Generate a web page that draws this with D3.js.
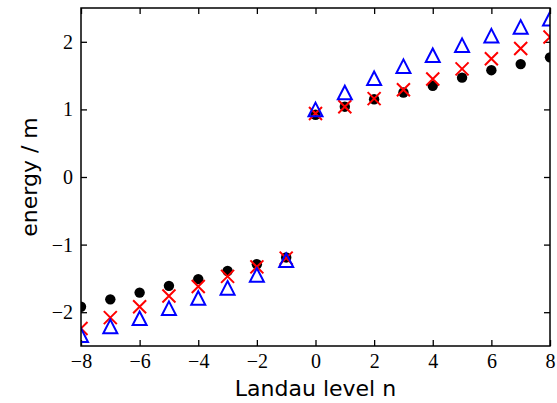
<!DOCTYPE html>
<meta charset="utf-8">
<style>
body { margin: 0; background: #fff; }
.label { font-family: "DejaVu Sans", sans-serif; font-size: 22px; fill: #000; }
</style>
<div class="chart"></div>
<script src="https://d3js.org/d3.v7.min.js"></script>
<script>

// Landau levels and energies (units of m)
var levels = [-8, -7, -6, -5, -4, -3, -2, -1, 0, 1, 2, 3, 4, 5, 6, 7, 8];
var circles = [-1.92, -1.81, -1.71, -1.61, -1.51, -1.39, -1.29, -1.19,
               0.92, 1.04, 1.15, 1.25, 1.35, 1.47, 1.58, 1.67, 1.77];
var crosses = [-2.24, -2.08, -1.92, -1.76, -1.62, -1.47, -1.33, -1.20,
               0.94, 1.04, 1.16, 1.29, 1.45, 1.60, 1.75, 1.90, 2.07];
var triangles = [-2.34, -2.21, -2.09, -1.94, -1.79, -1.64, -1.45, -1.23,
                 1.00, 1.25, 1.46, 1.64, 1.80, 1.95, 2.09, 2.22, 2.34];
var xTicks = [-8, -6, -4, -2, 0, 2, 4, 6, 8];
var yTicks = [-2, -1, 0, 1, 2];

var width = 557, height = 403;
var margin = {top: 8, right: 7, bottom: 57, left: 81};
var w = width - margin.left - margin.right;
var h = height - margin.top - margin.bottom;

var x = d3.scaleLinear().domain([-8, 8]).range([0, w]);
var y = d3.scaleLinear().domain([-2.5, 2.5]).range([h, 0]);

var fmt = function(d) { return d < 0 ? "\u2212" + Math.abs(d) : d; };

var svg = d3.select(".chart").append("svg")
    .attr("width", width)
    .attr("height", height);

var g = svg.append("g")
    .attr("transform", "translate(" + margin.left + "," + margin.top + ")");

svg.append("defs").append("clipPath").attr("id", "clip")
  .append("rect").attr("width", w).attr("height", h);

// axes, ticks inward on all four sides
function styleAxis(sel) {
  sel.select(".domain").remove();
  sel.selectAll(".tick line").attr("stroke", "#000").attr("stroke-width", 1.3);
  sel.selectAll(".tick text")
      .style("font-family", "'Liberation Serif', 'DejaVu Serif', serif")
      .style("font-size", "20px")
      .style("fill", "#000");
}

g.append("g")
    .attr("transform", "translate(0," + h + ")")
    .call(d3.axisBottom(x).tickValues(xTicks).tickFormat(fmt).tickSize(-6).tickPadding(8))
    .call(styleAxis);
g.append("g")
    .call(d3.axisTop(x).tickValues(xTicks).tickFormat("").tickSize(-6))
    .call(styleAxis);
g.append("g")
    .call(d3.axisLeft(y).tickValues(yTicks).tickFormat(fmt).tickSize(-6).tickPadding(8))
    .call(styleAxis);
g.append("g")
    .attr("transform", "translate(" + w + ",0)")
    .call(d3.axisRight(y).tickValues(yTicks).tickFormat("").tickSize(-6))
    .call(styleAxis);

var marks = g.append("g").attr("clip-path", "url(#clip)");

marks.append("g").selectAll("circle")
    .data(levels)
    .enter().append("circle")
    .attr("cx", function(d) { return x(d); })
    .attr("cy", function(d, i) { return y(circles[i]); })
    .attr("r", 5.2)
    .attr("fill", "#000");

marks.append("g").selectAll("path")
    .data(levels)
    .enter().append("path")
    .attr("d", "M-6.5,-6.5L6.5,6.5M-6.5,6.5L6.5,-6.5")
    .attr("transform", function(d, i) { return "translate(" + x(d) + "," + y(crosses[i]) + ")"; })
    .attr("fill", "none")
    .attr("stroke", "#f00")
    .attr("stroke-width", 2);

marks.append("g").selectAll("path")
    .data(levels)
    .enter().append("path")
    .attr("d", "M0,-6.8L7,6.8L-7,6.8Z")
    .attr("transform", function(d, i) { return "translate(" + x(d) + "," + y(triangles[i]) + ")"; })
    .attr("fill", "none")
    .attr("stroke", "#00f")
    .attr("stroke-width", 2);

// frame
g.append("rect")
    .attr("width", w)
    .attr("height", h)
    .attr("fill", "none")
    .attr("stroke", "#000")
    .attr("stroke-width", 1.5);

svg.append("text")
    .attr("class", "label")
    .attr("x", margin.left + w / 2)
    .attr("y", 396)
    .attr("text-anchor", "middle")
    .text("Landau level n");

svg.append("text")
    .attr("class", "label")
    .attr("transform", "translate(37," + (margin.top + h / 2) + ") rotate(-90)")
    .attr("text-anchor", "middle")
    .text("energy / m");

</script>
